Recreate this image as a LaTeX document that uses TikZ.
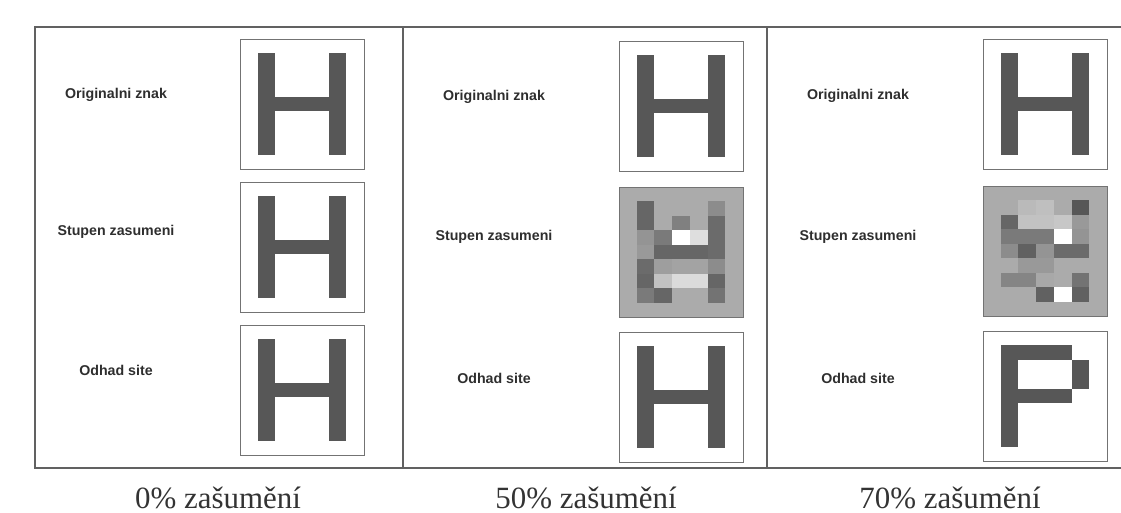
\documentclass[tikz,border=0pt]{standalone}
\usepackage{fontspec}
\setmainfont{Liberation Serif}
\newfontfamily\guifont{Liberation Sans}

% one cell of the 7x9 character raster
\newcommand{\cw}{17.714}
\newcommand{\ch}{14.444}

\newcommand{\letterH}{%
  \fill[ink] ({\cw},{\ch}) rectangle ({2*\cw},{8*\ch});
  \fill[ink] ({5*\cw},{\ch}) rectangle ({6*\cw},{8*\ch});
  \fill[ink] ({2*\cw},{4*\ch}) rectangle ({5*\cw},{5*\ch});}

\newcommand{\letterP}{%
  \fill[ink] ({\cw},{\ch}) rectangle ({2*\cw},{8*\ch});
  \fill[ink] ({2*\cw},{\ch}) rectangle ({5*\cw},{2*\ch});
  \fill[ink] ({5*\cw},{2*\ch}) rectangle ({6*\cw},{4*\ch});
  \fill[ink] ({2*\cw},{4*\ch}) rectangle ({5*\cw},{5*\ch});}

\begin{document}
\begin{tikzpicture}[
    x=0.025cm, y=-0.025cm,
    frame/.style={draw=black!62, line width=0.8pt},
    glyphbox/.style={
      draw=black!55,
      line width=0.55pt,
      fill=white,
      minimum width=3.1cm,
      minimum height=3.25cm,
      inner sep=0pt,
      outer sep=0pt
    },
    noisybox/.style={glyphbox, fill=black!33},
    ink/.style={fill=black!66},
    rowlabel/.style={font=\guifont\bfseries\fontsize{10.1}{12}\selectfont, text=black!82},
    caption/.style={anchor=base, font=\fontsize{22}{26}\selectfont, text=black!80}
  ]
  \path[use as bounding box] (0,0) rectangle (1121,513);

  % Frame with three columns
  \draw[frame] (1121,27) -- (35,27) -- (35,468) -- (1121,468);
  \draw[frame] (403,27) -- (403,468);
  \draw[frame] (767,27) -- (767,468);

  % Row labels
  \node[rowlabel] (lo1) at (116,95) {Originalni znak};
  \node[rowlabel] (ls1) at (116,232) {Stupen zasumeni};
  \node[rowlabel] (le1) at (116,370) {Odhad site};
  \node[rowlabel] (lo2) at (494,97) {Originalni znak};
  \node[rowlabel] (ls2) at (494,237) {Stupen zasumeni};
  \node[rowlabel] (le2) at (494,378) {Odhad site};
  \node[rowlabel] (lo3) at (858,96) {Originalni znak};
  \node[rowlabel] (ls3) at (858,237) {Stupen zasumeni};
  \node[rowlabel] (le3) at (858,378) {Odhad site};

  % 0 %
  \node[glyphbox] (orig1) at (302,104) {};
  \node[glyphbox] (noisy1) at (302,247) {};
  \node[glyphbox] (est1) at (302,390) {};
  \begin{scope}[shift={(orig1.north west)}] \letterH \end{scope}
  \begin{scope}[shift={(noisy1.north west)}] \letterH \end{scope}
  \begin{scope}[shift={(est1.north west)}] \letterH \end{scope}

  % 50 %
  \node[glyphbox] (orig2) at (681,106) {};
  \node[noisybox] (noisy2) at (681,252) {};
  \node[glyphbox] (est2) at (681,397) {};
  \begin{scope}[shift={(orig2.north west)}] \letterH \end{scope}
  \begin{scope}[shift={(noisy2.north west)}]
    \foreach \c/\r/\k in {1/1/60, 1/2/60, 3/2/50, 5/1/45, 5/2/58,
        1/3/42, 2/3/52, 3/3/0, 4/3/13, 5/3/58,
        1/4/40, 2/4/60, 3/4/60, 4/4/60, 5/4/58,
        1/5/58, 2/5/38, 3/5/36, 4/5/36, 5/5/45,
        1/6/60, 2/6/24, 3/6/14, 4/6/14, 5/6/60,
        1/7/52, 2/7/60, 5/7/55}
      \fill[black!\k] ({\c*\cw},{\r*\ch}) rectangle ({(\c+1)*\cw},{(\r+1)*\ch});
  \end{scope}
  \begin{scope}[shift={(est2.north west)}] \letterH \end{scope}

  % 70 %
  \node[glyphbox] (orig3) at (1045,104) {};
  \node[noisybox] (noisy3) at (1045,251) {};
  \node[glyphbox] (est3) at (1045,396) {};
  \begin{scope}[shift={(orig3.north west)}] \letterH \end{scope}
  \begin{scope}[shift={(noisy3.north west)}]
    \foreach \c/\r/\k in {2/1/27, 3/1/25, 5/1/66,
        1/2/60, 2/2/24, 3/2/24, 4/2/22, 5/2/40,
        1/3/52, 2/3/52, 3/3/52, 4/3/0, 5/3/42,
        1/4/45, 2/4/62, 3/4/42, 4/4/58, 5/4/58,
        2/5/40, 3/5/40,
        1/6/48, 2/6/48, 3/6/34, 5/6/55,
        3/7/62, 4/7/0, 5/7/62}
      \fill[black!\k] ({\c*\cw},{\r*\ch}) rectangle ({(\c+1)*\cw},{(\r+1)*\ch});
  \end{scope}
  \begin{scope}[shift={(est3.north west)}] \letterP \end{scope}

  % Captions
  \node[caption] (cap1) at (218,508) {0\% zašumění};
  \node[caption] (cap2) at (586,508) {50\% zašumění};
  \node[caption] (cap3) at (950,508) {70\% zašumění};
\end{tikzpicture}
\end{document}
